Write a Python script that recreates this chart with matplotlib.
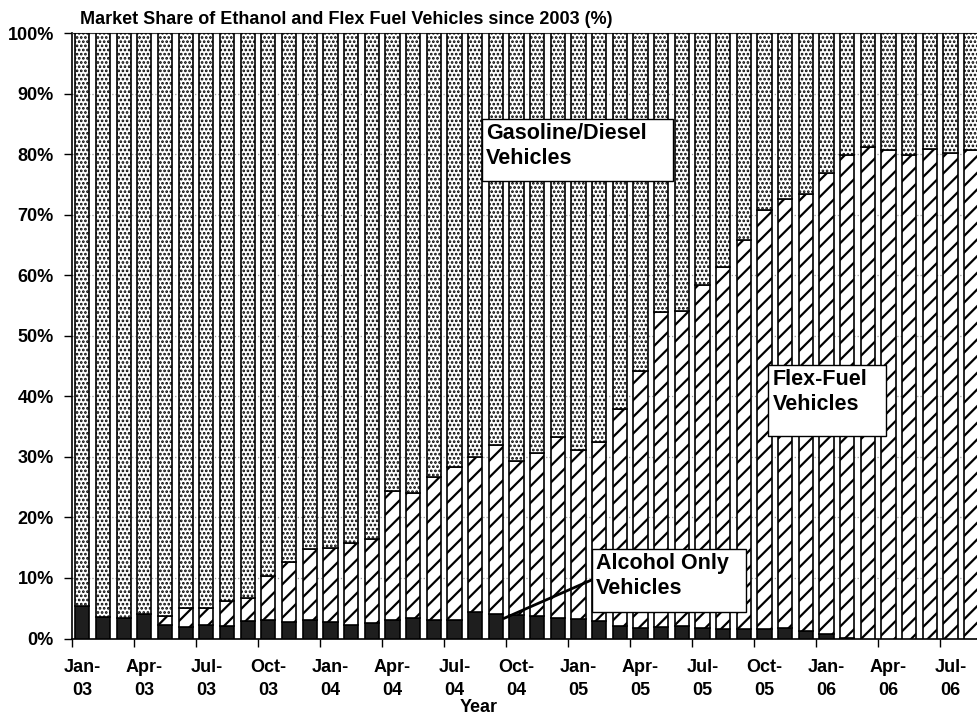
import matplotlib
matplotlib.use("Agg")
import matplotlib.pyplot as plt
from matplotlib.patches import Rectangle
import numpy as np

plt.rcParams['font.family'] = ['Liberation Sans', 'DejaVu Sans']
plt.rcParams['font.weight'] = 'bold'

# monthly shares (%), Jan-03 .. Aug-06
alcohol = [5.4, 3.6, 3.4, 4.0, 2.3, 1.9, 2.3, 2.1, 2.9, 3.0, 2.7, 3.1, 2.7, 2.3, 2.6,
           3.1, 3.4, 3.1, 3.0, 4.4, 4.1, 3.9, 3.7, 3.4, 3.2, 2.9,
           2.1, 1.7, 1.9, 2.0, 1.8, 1.6, 1.6, 1.5, 1.7, 1.2, 0.7, 0.15,
           0, 0, 0, 0, 0, 0]
flex = [0, 0, 0, 0, 1.4, 3.1, 2.7, 4.1, 3.8, 7.4, 9.9, 11.6, 12.2, 13.5, 13.8,
        21.3, 20.6, 23.6, 25.4, 25.5, 27.8, 25.4, 26.9, 29.8, 27.9, 29.6,
        35.8, 42.4, 52.1, 52.1, 56.6, 59.7, 64.2, 69.2, 70.9, 72.2, 76.2, 79.75,
        81.2, 80.6, 79.9, 80.9, 80.1, 80.6]
tick_labels = ["Jan-\n03", "Apr-\n03", "Jul-\n03", "Oct-\n03",
               "Jan-\n04", "Apr-\n04", "Jul-\n04", "Oct-\n04",
               "Jan-\n05", "Apr-\n05", "Jul-\n05", "Oct-\n05",
               "Jan-\n06", "Apr-\n06", "Jul-\n06"]

alcohol = np.array(alcohol)
flex = np.array(flex)
gasoline = 100 - alcohol - flex
x = np.arange(len(alcohol))

fig = plt.figure(figsize=(9.77, 7.23), dpi=100)
ax = fig.add_axes([72 / 977, 1 - 638.5 / 723, 905 / 977, 605.5 / 723])

w = 0.69
ax.bar(x, alcohol, w, color='#1e1e1e', edgecolor='black', linewidth=1.2, zorder=3)
with plt.rc_context({'hatch.linewidth': 1.6}):
    ax.bar(x, flex, w, bottom=alcohol, color='white', edgecolor='black',
           hatch='//', linewidth=1.2, zorder=3)
with plt.rc_context({'hatch.linewidth': 1.3}):
    ax.bar(x, gasoline, w, bottom=alcohol + flex, color='white', edgecolor='black',
           hatch='....', linewidth=1.2, zorder=3)

ax.set_xlim(-0.5, 905 / 20.67 - 0.5)
ax.set_ylim(0, 100)

ax.set_yticks(np.arange(0, 101, 10))
ax.set_yticklabels([f"{v}%" for v in range(0, 101, 10)], fontsize=13, fontweight='bold')
ax.tick_params(axis='y', direction='out', length=6, width=1, pad=7)

ax.set_xticks(np.arange(-0.5, len(x), 3))
ax.set_xticklabels([])
ax.set_xticks(np.arange(0, len(x), 3), minor=True)
ax.set_xticklabels(tick_labels, minor=True, fontsize=13, fontweight='bold', linespacing=1.4)
ax.tick_params(axis='x', which='major', direction='out', length=6, width=1)
ax.tick_params(axis='x', which='minor', length=0, pad=15)

ax.grid(axis='y', color='#9a9a9a', linestyle=':', linewidth=0.9, zorder=0)
ax.set_axisbelow(True)
ax.spines['right'].set_visible(False)
ax.spines['top'].set_color('#333333')
ax.spines['left'].set_linewidth(1.2)
ax.spines['bottom'].set_linewidth(1.2)

fig.text(80 / 977, 1 - 20 / 723, "Market Share of Ethanol and Flex Fuel Vehicles since 2003 (%)",
         fontsize=13, fontweight='bold', va='center', ha='left')
fig.text(479 / 977, 1 - 707 / 723, "Year", fontsize=13, fontweight='bold', ha='center', va='center')

# labelled boxes (x in categories, y in %)
def label_box(x0, x1, y0, y1, text):
    ax.add_patch(Rectangle((x0, y0), x1 - x0, y1 - y0, facecolor='white',
                           edgecolor='black', linewidth=1.0, zorder=5))
    ax.text(x0 + 0.2, y1 - 0.7, text, fontsize=15.5, fontweight='bold',
            va='top', ha='left', linespacing=1.25, zorder=6)

label_box(19.32, 28.56, 75.6, 85.8, "Gasoline/Diesel\nVehicles")
label_box(33.19, 38.88, 33.4, 45.2, "Flex-Fuel\nVehicles")
label_box(24.64, 32.09, 4.3, 14.8, "Alcohol Only\nVehicles")
ax.plot([20.41, 24.64], [3.34, 9.67], color='black', linewidth=2, zorder=4)

fig.savefig("out.png", dpi=100)
